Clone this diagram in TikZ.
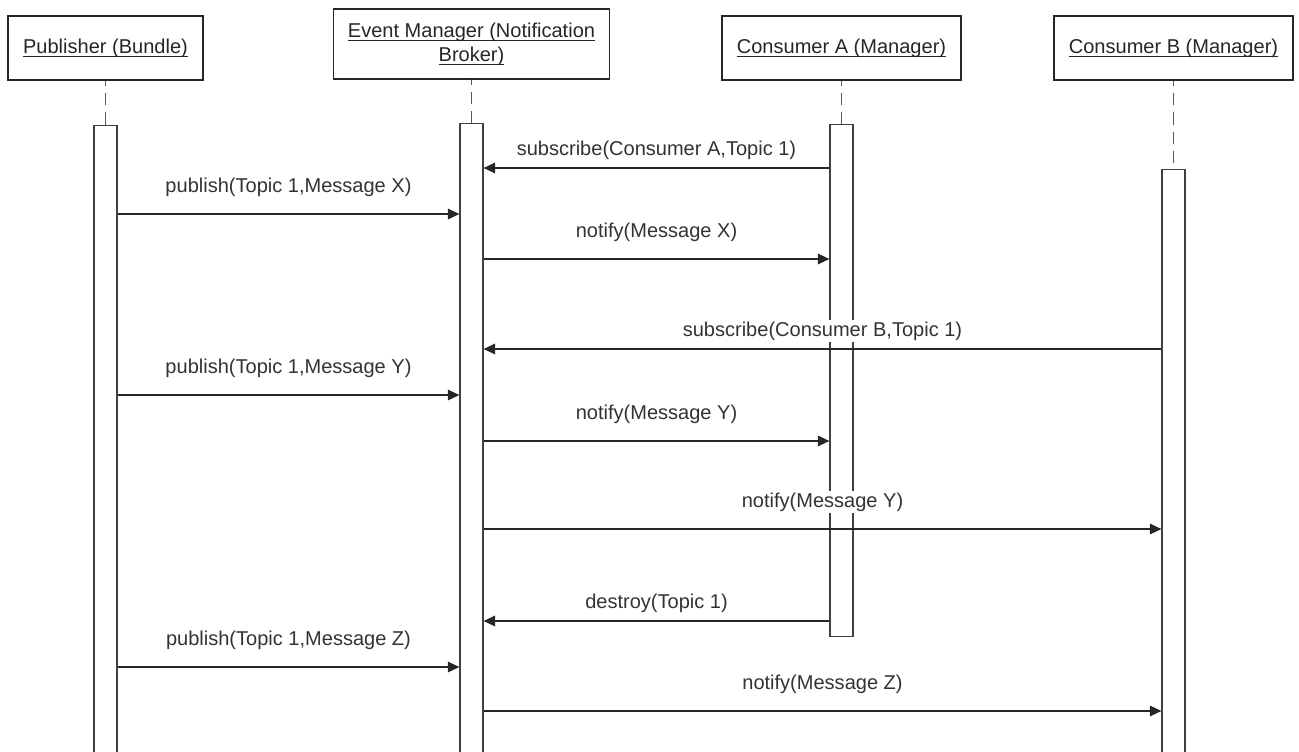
\documentclass[tikz,border=0pt]{standalone}
\usepackage{amsmath}
\usepackage{fontspec}
\setmainfont{Liberation Sans}
\usepackage{tikz}
\usetikzlibrary{arrows.meta, positioning, calc}
\newcommand{\objname}[1]{\underline{\smash[b]{#1}}}

\begin{document}
\begin{tikzpicture}[
    x=0.02cm, y=-0.02cm,
    font=\fontsize{11.4}{13.6}\selectfont,
    actor/.style={draw=black!85, line width=0.85pt, text=black!85,
                  minimum height=1.28cm, align=center, inner sep=0pt},
    bar/.style={draw=black!75, fill=white, line width=0.7pt,
                minimum width=0.46cm, inner sep=0pt, anchor=north},
    life/.style={draw=black!65, dash pattern=on 7pt off 4pt, dash phase=4pt,
                 line width=1pt},
    msg/.style={-{Triangle[length=6.5pt, width=6pt]}, line width=0.6pt, black!85},
    lblup/.style={fill=white, inner sep=1pt, text=black!80, yshift=0.54cm},
    lbllow/.style={fill=white, inner sep=1pt, text=black!80, yshift=0.36cm},
]
\useasboundingbox (0,0) rectangle (1299,751);
\clip (0,0) rectangle (1299,751);

% ── Objects ──
\node[actor, minimum width=3.9cm] (pub) at (105.5,48)
    {\objname{Publisher (Bundle)}};
\node[actor, minimum width=5.52cm, minimum height=1.4cm] (em) at (471.5,44)
    {\objname{Event Manager (Notification}\\\objname{Broker)}};
\node[actor, minimum width=4.78cm] (ca) at (841.5,48)
    {\objname{Consumer A (Manager)}};
\node[actor, minimum width=4.78cm] (cb) at (1173.5,48)
    {\objname{Consumer B (Manager)}};

% ── Activations ──
\node[bar, minimum height=12.7cm] (pubbar) at (105.5,125) {};
\node[bar, minimum height=12.74cm] (embar) at (471.5,123) {};
\node[bar, minimum height=10.24cm] (cabar) at (841.5,124) {};
\node[bar, minimum height=11.82cm] (cbbar) at (1173.5,169) {};

\draw[life] (pub.south) -- (pubbar.north);
\draw[life] (em.south) -- (embar.north);
\draw[life] (ca.south) -- (cabar.north);
\draw[life] (cb.south) -- (cbbar.north);

% ── Messages ──
\coordinate (m1) at (0,168);
\coordinate (m2) at (0,214);
\coordinate (m3) at (0,259);
\coordinate (m4) at (0,349);
\coordinate (m5) at (0,395);
\coordinate (m6) at (0,441);
\coordinate (m7) at (0,529);
\coordinate (m8) at (0,621);
\coordinate (m9) at (0,667);
\coordinate (m10) at (0,711);

\draw[msg] (cabar.west |- m1) -- node[lbllow] {subscribe(Consumer A,Topic 1)} (embar.east |- m1);
\draw[msg] (pubbar.east |- m2) -- node[lblup] {publish(Topic 1,Message X)} (embar.west |- m2);
\draw[msg] (embar.east |- m3) -- node[lblup] {notify(Message X)} (cabar.west |- m3);
\draw[msg] (cbbar.west |- m4) -- node[lbllow] {subscribe(Consumer B,Topic 1)} (embar.east |- m4);
\draw[msg] (pubbar.east |- m5) -- node[lblup] {publish(Topic 1,Message Y)} (embar.west |- m5);
\draw[msg] (embar.east |- m6) -- node[lblup] {notify(Message Y)} (cabar.west |- m6);
\draw[msg] (embar.east |- m7) -- node[lblup] {notify(Message Y)} (cbbar.west |- m7);
\draw[msg] (cabar.west |- m8) -- node[lbllow] {destroy(Topic 1)} (embar.east |- m8);
\draw[msg] (pubbar.east |- m9) -- node[lblup] {publish(Topic 1,Message Z)} (embar.west |- m9);
\draw[msg] (embar.east |- m10) -- node[lblup] {notify(Message Z)} (cbbar.west |- m10);
\end{tikzpicture}
\end{document}
